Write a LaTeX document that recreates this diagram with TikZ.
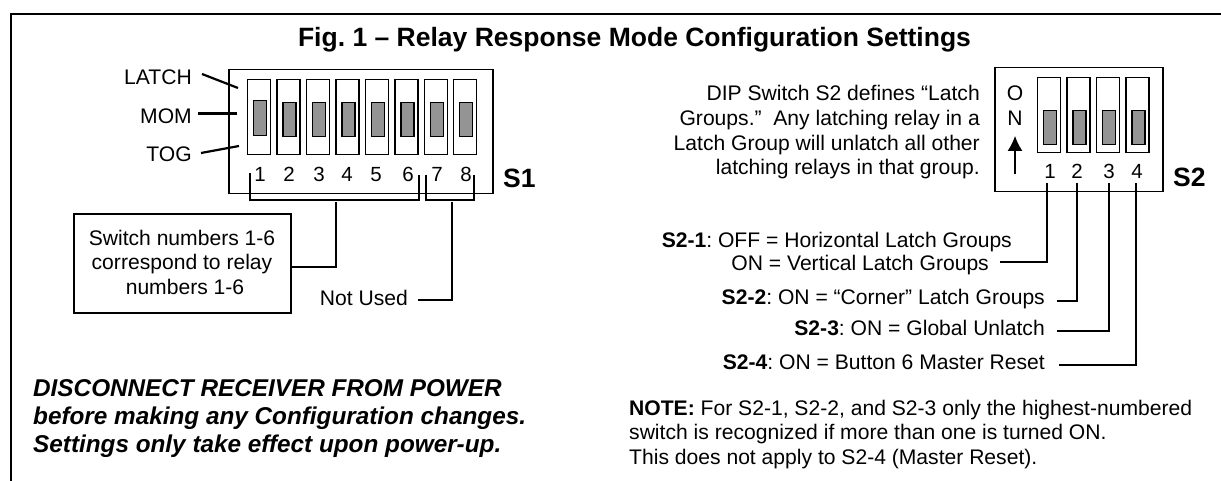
\documentclass[tikz,border=0pt]{standalone}
\usepackage{fontspec}
\setmainfont{Liberation Sans}
\usetikzlibrary{arrows.meta,positioning}
\frenchspacing
\begin{document}
\begin{tikzpicture}[x=1pt,y=-1pt]
  \tikzstyle{dipbox} = [draw=black, line width=1.5pt, rectangle, inner sep=0pt, anchor=north west]
  \tikzstyle{swnode} = [draw=black, line width=1.3pt, rectangle, inner sep=0pt, minimum width=23pt, minimum height=75pt, anchor=north west]
  \tikzstyle{slnode} = [draw=black, fill=black!42, line width=1.3pt, rectangle, inner sep=0pt, minimum width=13pt, minimum height=34pt, anchor=north west]
  \tikzstyle{txt} = [inner sep=0pt, text height=15pt, text depth=0pt, font=\fontsize{21.1}{24}\selectfont]
  \tikzstyle{numtxt} = [txt, font=\fontsize{20.5}{24}\selectfont]
  \tikzstyle{boldtxt} = [txt, text height=19pt, font=\fontsize{26.5}{30}\bfseries\selectfont]
  \tikzstyle{warntxt} = [txt, anchor=west, text height=17pt, font=\fontsize{24.3}{28}\bfseries\itshape\selectfont]
  \tikzstyle{wire} = [line width=1.2pt, black]
  \useasboundingbox (0,0) rectangle (1221,481);

  % outer frame, open at the bottom and on the right
  \coordinate (fa) at (11,481);
  \coordinate (fb) at (11,14);
  \coordinate (fc) at (1221,14);
  \draw[line width=1.6pt] (fa) -- (fb) -- (fc);

  \node[boldtxt] (title) at (634.5,37) {Fig. 1 – Relay Response Mode Configuration Settings};

  % S1
  \node[dipbox, minimum width=264pt, minimum height=124pt] (s1) at (228,69) {};
  \foreach \i/\lx in {1/260,2/289,3/319,4/347,5/376,6/408,7/437,8/466} {
    \node[swnode] (sa\i) at ({247+29.45*(\i-1)},79) {};
    \node[numtxt] (na\i) at (\lx,174) {\i};
  }
  \node[slnode, minimum height=35pt] (sb1) at (253,100) {};
  \foreach \i in {2,...,8}
    \node[slnode] (sb\i) at ({253+29.45*(\i-1)},102) {};

  \node[txt, anchor=east] (latch) at (192,77) {LATCH};
  \node[txt, anchor=east] (mom) at (192,116) {MOM};
  \node[txt, anchor=east] (tog) at (192,154) {TOG};
  \coordinate (la) at (202,74);
  \coordinate (lb) at (238,88);
  \coordinate (ma) at (198,113.5);
  \coordinate (mb) at (237,113.5);
  \coordinate (ta) at (201,153);
  \coordinate (tb) at (239,146);
  \draw[line width=2.2pt] (la) -- (lb);
  \draw[line width=2.2pt] (ma) -- (mb);
  \draw[line width=2.2pt] (ta) -- (tb);

  % brackets below S1
  \coordinate (ba) at (250,173);
  \coordinate (bb) at (250,200);
  \coordinate (bc) at (419,200);
  \coordinate (bd) at (419,175);
  \coordinate (be) at (426,175);
  \coordinate (bf) at (426,200);
  \coordinate (bg) at (474,200);
  \coordinate (bh) at (474,175);
  \draw[wire] (ba) -- (bb) -- (bc) -- (bd);
  \draw[wire] (be) -- (bf) -- (bg) -- (bh);
  \node[boldtxt, anchor=west] (s1lab) at (503,178) {S1};

  \node[draw=black, line width=1.5pt, inner sep=0pt, minimum width=217pt, minimum height=99pt] (relaybox) at (182.5,263.5) {};
  \node[txt] (t1) at (182,238) {Switch numbers 1-6};
  \node[txt] (t2) at (182,262) {correspond to relay};
  \node[txt] (t3) at (185,287) {numbers 1-6};
  \coordinate (ra) at (336,202);
  \coordinate (rb) at (336,267);
  \coordinate (rc) at (291,267);
  \draw[wire] (ra) -- (rb) -- (rc);

  \node[txt, anchor=east] (notused) at (408,298) {Not Used};
  \coordinate (na) at (452,202);
  \coordinate (nb) at (452,300);
  \coordinate (nc) at (418,300);
  \draw[wire] (na) -- (nb) -- (nc);

  \node[warntxt] (d1) at (33,388) {DISCONNECT RECEIVER FROM POWER};
  \node[warntxt] (d2) at (33,416) {before making any Configuration changes.};
  \node[warntxt] (d3) at (33,444) {Settings only take effect upon power-up.};

  % S2
  \node[dipbox, minimum width=168pt, minimum height=124pt] (s2) at (994,67) {};
  \foreach \i in {1,...,4} {
    \node[swnode] (sc\i) at ({1037+29.4*(\i-1)},77) {};
    \node[slnode] (sd\i) at ({1043+29.4*(\i-1)},110) {};
  }
  \foreach \i/\lx in {1/1050,2/1077,3/1109,4/1137}
    \node[numtxt] (nb\i) at (\lx,171) {\i};
  \node[txt] (on1) at (1015,93) {O};
  \node[txt] (on2) at (1015,118) {N};
  \coordinate (aa) at (1015,174);
  \coordinate (ab) at (1015,136);
  \draw[wire, -{Latex[width=15pt,length=15pt]}] (aa) -- (ab);
  \node[boldtxt, anchor=west] (s2lab) at (1173,177) {S2};

  \node[txt, anchor=east] (p1) at (980,93) {DIP Switch S2 defines “Latch};
  \node[txt, anchor=east] (p2) at (980,118) {Groups.”\ \ Any latching relay in a};
  \node[txt, anchor=east] (p3) at (980,143) {Latch Group will unlatch all other};
  \node[txt, anchor=east] (p4) at (980,167) {latching relays in that group.};

  \node[txt, anchor=east] (g1) at (1012,240) {\textbf{S2-1}: OFF = Horizontal Latch Groups};
  \node[txt, anchor=east] (g1b) at (989,263) {ON = Vertical Latch Groups};
  \node[txt, anchor=east] (g2) at (1045,297) {\textbf{S2-2}: ON = “Corner” Latch Groups};
  \node[txt, anchor=east] (g3) at (1045,328) {\textbf{S2-3}: ON = Global Unlatch};
  \node[txt, anchor=east] (g4) at (1045,362) {\textbf{S2-4}: ON = Button 6 Master Reset};
  \foreach \n/\x/\y/\s in {1/1047/262/1000,2/1077/301/1057,3/1109/331/1057,4/1136/365/1059} {
    \coordinate (wa\n) at (\x,183);
    \coordinate (wb\n) at (\x,\y);
    \coordinate (wc\n) at (\s,\y);
    \draw[wire] (wa\n) -- (wb\n) -- (wc\n);
  }

  \node[txt, anchor=west] (n1) at (629,408) {\textbf{NOTE:} For S2-1, S2-2, and S2-3 only the highest-numbered};
  \node[txt, anchor=west] (n2) at (629,432) {switch is recognized if more than one is turned ON.};
  \node[txt, anchor=west] (n3) at (629,457) {This does not apply to S2-4 (Master Reset).};
\end{tikzpicture}
\end{document}
